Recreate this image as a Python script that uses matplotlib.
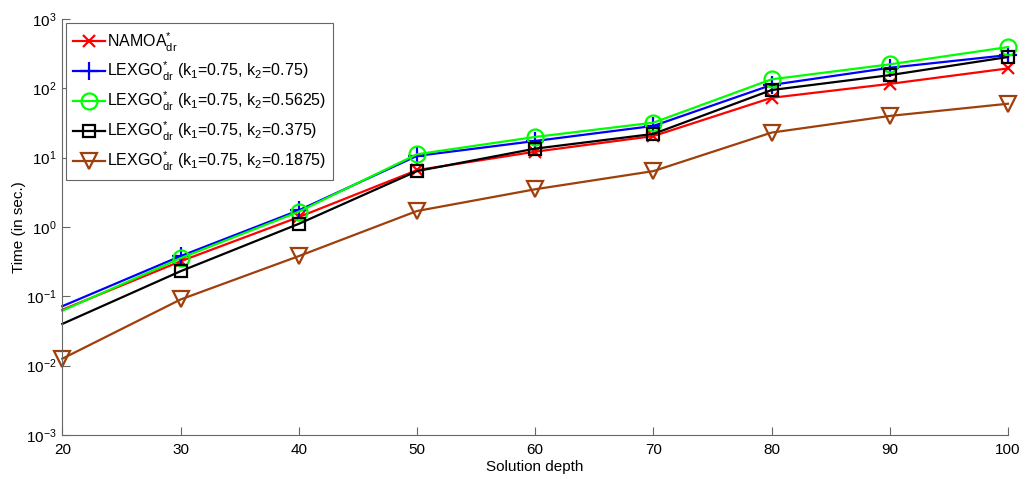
import matplotlib

matplotlib.use("Agg")
import matplotlib.pyplot as plt
import numpy as np

plt.rcParams["font.family"] = ["Liberation Sans", "DejaVu Sans"]
plt.rcParams["mathtext.fontset"] = "custom"
plt.rcParams["mathtext.rm"] = "Liberation Sans"
plt.rcParams["mathtext.it"] = "Liberation Sans"
plt.rcParams["mathtext.bf"] = "Liberation Sans:bold"

# solution depth
depth = [20, 30, 40, 50, 60, 70, 80, 90, 100]

# run times in seconds
namoa = [0.064, 0.32, 1.39, 6.6, 12.2, 20.5, 73, 116, 194]
lex_075 = [0.072, 0.38, 1.74, 10.6, 17.4, 28.7, 112, 198, 302]
lex_05625 = [0.062, 0.355, 1.66, 11.2, 19.9, 32, 135, 222, 394]
lex_0375 = [0.040, 0.23, 1.11, 6.4, 13.5, 22, 94.5, 155, 283]
lex_01875 = [0.0126, 0.09, 0.38, 1.7, 3.5, 6.4, 23, 40, 60]

BROWN = "#9e3f0c"
LEX = r"LEXGO$^{*}_{\rm dr}$"

series = [
    (namoa, "red", "x", 9, r"NAMOA$^{*}_{\rm dr}$", 1),
    (lex_075, "blue", "+", 13, LEX + r" (k$_1$=0.75, k$_2$=0.75)", 1),
    (lex_05625, "#00ff00", "o", 11.5, LEX + r" (k$_1$=0.75, k$_2$=0.5625)", 1),
    (lex_0375, "black", "s", 9, LEX + r" (k$_1$=0.75, k$_2$=0.375)", 1),
    (lex_01875, BROWN, "v", 11.5, LEX + r" (k$_1$=0.75, k$_2$=0.1875)", 0),
]

fig = plt.figure(figsize=(10.25, 4.79), dpi=100)
ax = fig.add_axes([0.0608, 0.0919, 0.9226, 0.8684])

for values, color, marker, msize, label, first in series:
    ax.plot(
        depth,
        values,
        color=color,
        linewidth=1.6,
        marker=marker,
        markersize=msize,
        markerfacecolor="none",
        markeredgecolor=color,
        markeredgewidth=1.6,
        markevery=slice(first, None),
        label=label,
        clip_on=False,
    )

ax.set_yscale("log")
ax.set_xlim(20, 100)
ax.set_ylim(1e-3, 1e3)
ax.set_xticks(depth)
ax.set_yticks([1e-3, 1e-2, 1e-1, 1e0, 1e1, 1e2, 1e3])
ax.minorticks_off()
ax.tick_params(direction="in", length=6, width=0.8, color="#666666", labelsize=11)
ax.tick_params(axis="x", pad=6)
ax.tick_params(axis="y", pad=4)

for side in ("top", "right"):
    ax.spines[side].set_visible(False)
for side in ("left", "bottom"):
    ax.spines[side].set_color("#666666")
    ax.spines[side].set_linewidth(0.8)

ax.set_xlabel("Solution depth", fontsize=11, labelpad=2)
ax.set_ylabel("Time (in sec.)", fontsize=11, labelpad=0)

leg = ax.legend(
    loc="upper left",
    bbox_to_anchor=(0.004, 0.99),
    fontsize=11.5,
    frameon=True,
    fancybox=False,
    shadow=False,
    framealpha=1,
    edgecolor="#666666",
    handlelength=2.0,
    handletextpad=0.12,
    labelspacing=0.42,
    borderpad=0.45,
    borderaxespad=0,
)
leg.get_frame().set_linewidth(0.8)

fig.savefig("out.png", dpi=100, facecolor="white")
